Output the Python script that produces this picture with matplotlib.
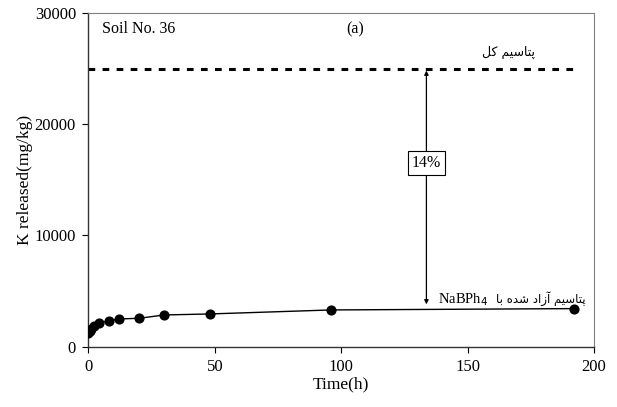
import matplotlib
matplotlib.use("Agg")
import matplotlib.pyplot as plt

# K release over time, soil No. 36
time_h = [0, 0.5, 1, 2, 4, 8, 12, 20, 30, 48, 96, 192]
k_released = [1200, 1400, 1560, 1860, 2100, 2310, 2490, 2550, 2850, 2940, 3300, 3420]
total_k = 24900
label_total = "\uFEDE\uFB90 \uFEE2\uFBFF\uFEB3\uFE8E\uFE98\uFB58"
label_released = ("\uFE8E\uFE91 \uFEE9\uFEAA\uFEB7 "
                  "\uFEA9\uFE8D\uFEAF\uFE81 \uFEE2\uFBFF\uFEB3\uFE8E\uFE98\uFB58")

plt.rcParams["font.family"] = ["Liberation Serif", "DejaVu Sans"]
plt.rcParams["font.size"] = 11

fig = plt.figure(figsize=(6.17, 4.07), dpi=100)
ax = fig.add_axes([0.1434, 0.1482, 0.8193, 0.8206])

ax.plot(time_h, k_released, color="black", lw=1, marker="o", ms=6.3, zorder=3)
ax.plot([0, 193], [total_k, total_k], color="black", lw=2.2,
        linestyle=(0, (2.2, 2.4)), zorder=2)

# double arrow for the released fraction
ax.annotate("", xy=(133.7, total_k - 100), xytext=(133.7, 3800),
            arrowprops=dict(arrowstyle="<|-|>", color="black", lw=0.9,
                            mutation_scale=6, shrinkA=0, shrinkB=0))
ax.text(133.7, 16500, "14%", ha="center", va="center", fontsize=11.5,
        bbox=dict(boxstyle="square,pad=0.25", fc="white", ec="black", lw=0.8))

ax.text(5.2, 28500, "Soil No. 36", ha="left", va="center", fontsize=11.5)
ax.text(105.4, 28500, "(a)", ha="center", va="center", fontsize=11.5)
ax.text(166, 26400, label_total, ha="center", va="center", fontsize=9,
        family=["DejaVu Sans"])
ax.text(138.3, 4250, "NaBPh$_4$", ha="left", va="center", fontsize=10.5)
ax.text(196.5, 4350, label_released, ha="right", va="center", fontsize=8.5,
        family=["DejaVu Sans"])

ax.set_xlim(0, 200)
ax.set_ylim(0, 30000)
ax.set_xticks([0, 50, 100, 150, 200])
ax.set_yticks([0, 10000, 20000, 30000])
ax.tick_params(direction="out", length=4, width=0.8, labelsize=12, pad=5)
ax.set_xlabel("Time(h)", fontsize=12.5, labelpad=1)
ax.set_ylabel("K released(mg/kg)", fontsize=12.5, labelpad=1)

for side in ["top", "right"]:
    ax.spines[side].set_color("#808080")
    ax.spines[side].set_linewidth(0.8)
for side in ["left", "bottom"]:
    ax.spines[side].set_color("#333333")
    ax.spines[side].set_linewidth(1)

fig.savefig("out.png", dpi=100)
